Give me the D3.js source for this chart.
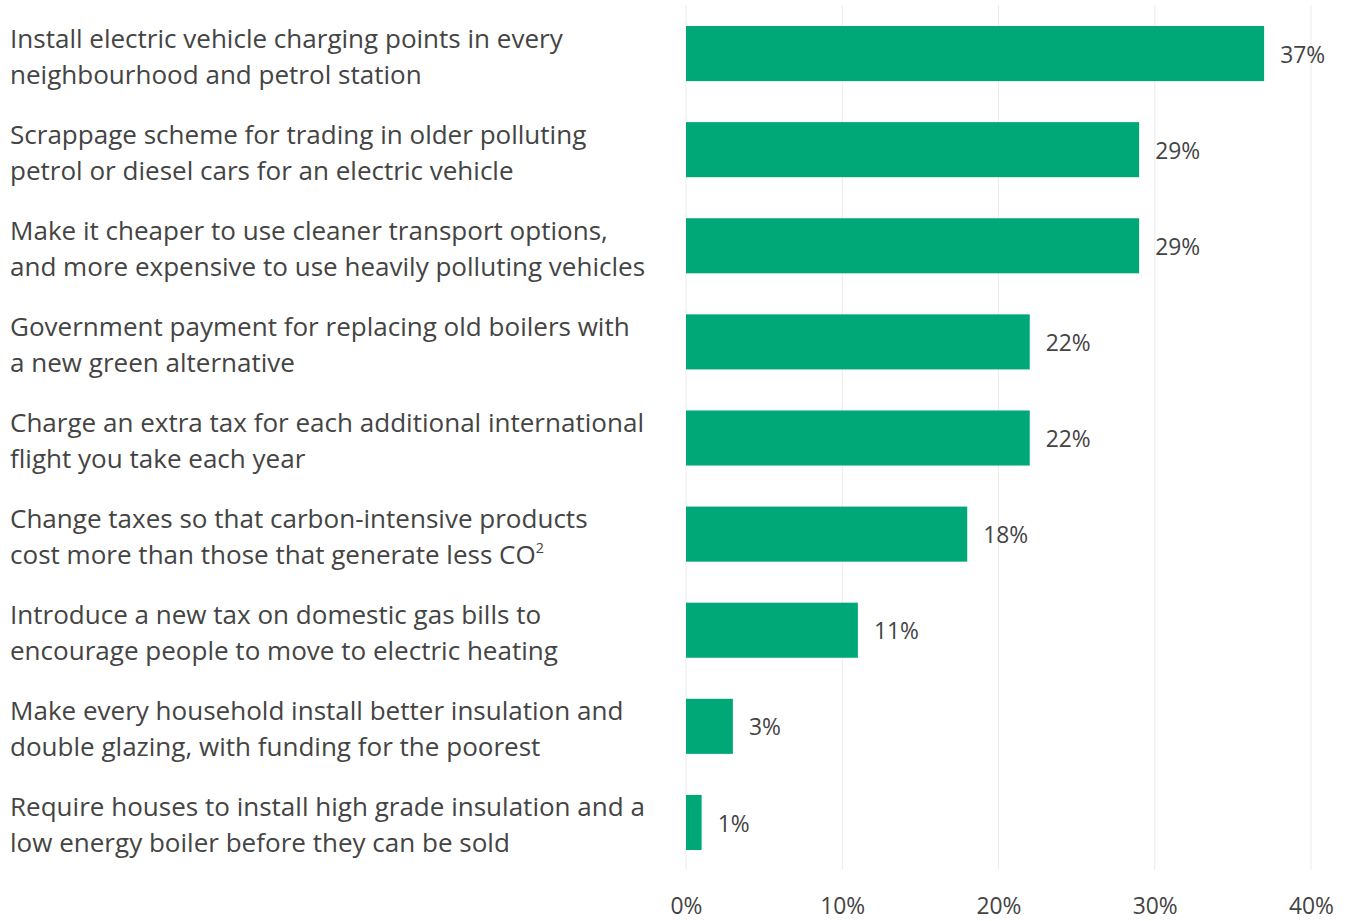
<!DOCTYPE html>
<html>
<head>
<meta charset="utf-8">
<script src="https://cdn.jsdelivr.net/npm/d3@7"></script>
<style>
  html, body { margin: 0; padding: 0; background: #fff; }
  svg { display: block; }
  text { font-family: "Open Sans", "Noto Sans", sans-serif; fill: #444; }
</style>
</head>
<body>
<script>
// Policy options, each label split over two lines
const labelLine1 = [
  "Install electric vehicle charging points in every",
  "Scrappage scheme for trading in older polluting",
  "Make it cheaper to use cleaner transport options,",
  "Government payment for replacing old boilers with",
  "Charge an extra tax for each additional international",
  "Change taxes so that carbon-intensive products",
  "Introduce a new tax on domestic gas bills to",
  "Make every household install better insulation and",
  "Require houses to install high grade insulation and a"
];
const labelLine2 = [
  "neighbourhood and petrol station",
  "petrol or diesel cars for an electric vehicle",
  "and more expensive to use heavily polluting vehicles",
  "a new green alternative",
  "flight you take each year",
  "cost more than those that generate less CO",
  "encourage people to move to electric heating",
  "double glazing, with funding for the poorest",
  "low energy boiler before they can be sold"
];
// Line 2 of option 6 ends with a superscript
const labelSup = ["", "", "", "", "", "2", "", "", ""];
const shares = [37, 29, 29, 22, 22, 18, 11, 3, 1];
const xTicks = [0, 10, 20, 30, 40];

const W = 1347, H = 921;
const svg = d3.select("body").append("svg").attr("width", W).attr("height", H);

const x = d3.scaleLinear().domain([0, 40]).range([686, 1311]);
const y = d3.scaleBand().domain(d3.range(shares.length)).range([5.5, 870.5]).paddingInner(0.427).paddingOuter(0.2135);

// Fit label font so the widest first line spans the same room as the design
const probe = svg.append("text").attr("font-size", 24).text(labelLine1[0]);
const labelSize = 24 * 553 / probe.node().getComputedTextLength();
probe.text("37%");
const numSize = 24 * 45 / probe.node().getComputedTextLength();
probe.remove();

// Vertical gridlines
svg.append("g").selectAll("line").data(xTicks).join("line")
  .attr("x1", d => x(d)).attr("x2", d => x(d))
  .attr("y1", 5).attr("y2", 870)
  .attr("stroke", "#ececec").attr("stroke-width", 1);

// Bars
svg.append("g").selectAll("rect").data(shares).join("rect")
  .attr("x", x(0))
  .attr("y", (d, i) => y(i))
  .attr("width", d => x(d) - x(0))
  .attr("height", y.bandwidth())
  .attr("fill", "#00a878");

// Value labels
svg.append("g").selectAll("text").data(shares).join("text")
  .attr("x", d => x(d) + 16)
  .attr("y", (d, i) => y(i) + y.bandwidth() / 2)
  .attr("dy", "0.4em")
  .attr("font-size", numSize)
  .text(d => d + "%");

// Category labels
const lab = svg.append("g").selectAll("text").data(shares).join("text")
  .attr("font-size", labelSize);
lab.append("tspan")
  .attr("x", 10)
  .attr("y", (d, i) => y(i) + y.bandwidth() / 2 - 6)
  .text((d, i) => labelLine1[i]);
lab.append("tspan")
  .attr("x", 10)
  .attr("y", (d, i) => y(i) + y.bandwidth() / 2 + 30)
  .text((d, i) => labelLine2[i]);
lab.each(function (d, i) {
  if (!labelSup[i]) return;
  d3.select(this).append("tspan")
    .attr("font-size", labelSize * 0.55)
    .attr("dy", -labelSize * 0.42)
    .text(labelSup[i]);
});

// X axis tick labels
const axis = d3.axisBottom(x).tickValues(xTicks).tickFormat(d => d + "%").tickSize(0).tickPadding(0);
const ax = svg.append("g").call(axis);
ax.select(".domain").remove();
ax.selectAll("text")
  .attr("y", 906)
  .attr("dy", "0.36em")
  .attr("font-size", numSize)
  .attr("font-family", null)
  .attr("fill", "#444");
</script>
</body>
</html>
